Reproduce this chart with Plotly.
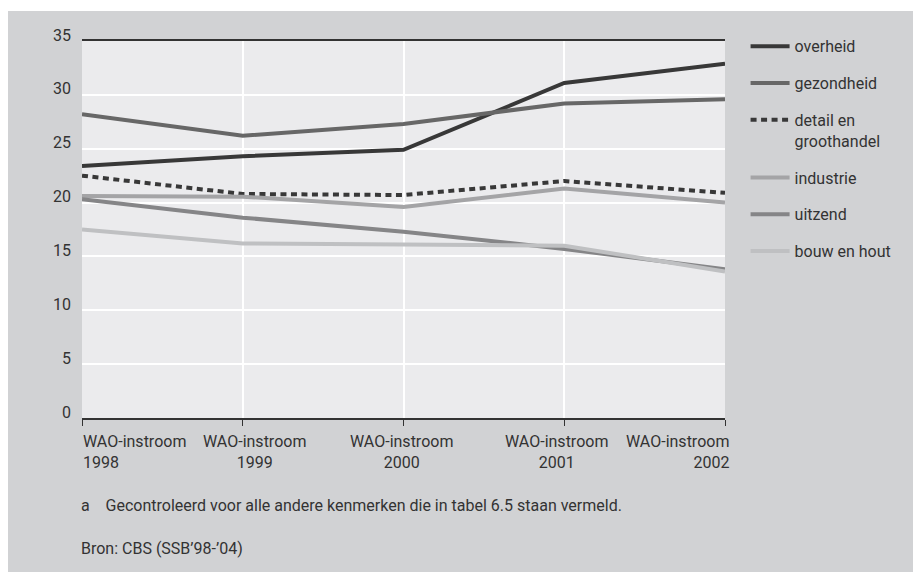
import plotly.graph_objects as go

years = ["1998", "1999", "2000", "2001", "2002"]
tick_top = ["WAO-instroom"] * 5

series_names = ["overheid", "gezondheid", "detail en<br>groothandel", "industrie", "uitzend", "bouw en hout"]
overheid = [23.4, 24.3, 24.9, 31.1, 32.9]
gezondheid = [28.2, 26.2, 27.3, 29.2, 29.6]
detail = [22.5, 20.8, 20.7, 22.0, 20.9]
industrie = [20.6, 20.55, 19.6, 21.3, 20.0]
uitzend = [20.3, 18.6, 17.3, 15.7, 13.8]
bouw = [17.5, 16.2, 16.1, 16.0, 13.6]

values = [overheid, gezondheid, detail, industrie, uitzend, bouw]
colors = ["#383838", "#676767", "#383838", "#a4a4a6", "#858587", "#bfc0c2"]
dashes = ["solid", "solid", "6px,4.5px", "solid", "solid", "solid"]

footnote = "a    Gecontroleerd voor alle andere kenmerken die in tabel 6.5 staan vermeld."
source = "Bron: CBS (SSB’98-’04)"

FONT = "Roboto, Arial, sans-serif"
TXT = "#333333"

fig = go.Figure()
for name, vals, col, dsh in zip(series_names, values, colors, dashes):
    fig.add_trace(go.Scatter(
        x=years, y=vals, name=name, mode="lines",
        line=dict(color=col, width=4, dash=dsh),
        legendgroup=name,
    ))

# x tick labels as annotations (first left, last right aligned)
anchors = ["left", "center", "center", "center", "right"]
shifts = [-1, 12, -2, -8, 6]
for i, (yr, top, anc, sh) in enumerate(zip(years, tick_top, anchors, shifts)):
    fig.add_annotation(
        x=i, y=0, xref="x", yref="y", text=f"{top}<br>{yr}",
        showarrow=False, xanchor=anc, yanchor="top", align=anc,
        xshift=sh, yshift=-12, font=dict(family=FONT, size=16, color=TXT),
    )

fig.add_annotation(x=-0.004, y=-0.231, xref="paper", yref="paper", text=footnote,
                   showarrow=False, xanchor="left", yanchor="middle", align="left",
                   font=dict(family=FONT, size=16, color=TXT))
fig.add_annotation(x=-0.004, y=-0.347, xref="paper", yref="paper", text=source,
                   showarrow=False, xanchor="left", yanchor="middle", align="left",
                   font=dict(family=FONT, size=16, color=TXT))

# thin white strip at the very top of the page
fig.add_shape(type="rect", xref="paper", yref="paper", x0=-0.3, x1=1.5,
              y0=1 + 30 / 377, y1=1.3, fillcolor="white", line_width=0, layer="below")

fig.update_layout(
    width=921, height=572,
    margin=dict(l=74, r=204, t=33, b=162),
    paper_bgcolor="#d1d2d4", plot_bgcolor="#ebebed",
    font=dict(family=FONT, size=16, color=TXT),
    showlegend=True,
    legend=dict(x=1.032, y=1.031, xanchor="left", yanchor="top",
                bgcolor="rgba(0,0,0,0)", font=dict(family=FONT, size=16, color=TXT),
                tracegroupgap=13, valign="top", traceorder="grouped", itemwidth=39),
    xaxis=dict(type="category", range=[0, 4], showgrid=True, gridcolor="white", gridwidth=2,
               showline=True, linecolor="#333333", linewidth=1.5, mirror=True,
               ticks="outside", ticklen=6, tickcolor="#333333", tickwidth=1.2,
               showticklabels=False, zeroline=False),
    yaxis=dict(range=[0, 35], dtick=5, showgrid=True, gridcolor="white", gridwidth=2,
               zeroline=False, showline=False, ticks="", ticklabelstandoff=10,
               ticklabelshift=-6, tickfont=dict(family=FONT, size=16, color=TXT)),
)

fig.write_html("out.html")
